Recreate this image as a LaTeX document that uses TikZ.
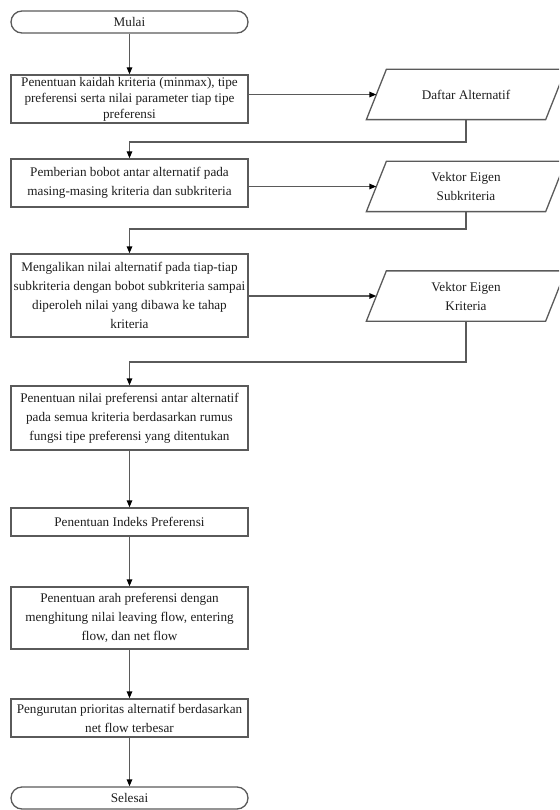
\documentclass[tikz,border=0pt]{standalone}
\usepackage{fontspec}
\setmainfont{Liberation Serif}
\usetikzlibrary{arrows.meta}
\definecolor{linec}{HTML}{5A5A5A}
\definecolor{textc}{HTML}{1E1E1E}
\tikzset{
  base/.style={draw=linec, line width=1.3pt, text=textc, align=center,
    font=\fontsize{13.2}{19}\selectfont, inner sep=2pt},
  procbox/.style={base, rectangle, minimum width=237pt},
  termbox/.style={base, rectangle, rounded corners=11pt, minimum width=237pt, minimum height=22pt},
  databox/.style={base, draw=none, rectangle, minimum width=198pt, minimum height=49pt,
    append after command={
      \pgfextra{\draw[draw=linec, line width=1.3pt]
        ([xshift=20pt]\tikzlastnode.north west) -- (\tikzlastnode.north east)
        -- ([xshift=-20pt]\tikzlastnode.south east) -- (\tikzlastnode.south west) -- cycle;}}},
  flow/.style={draw=linec, line width=1.3pt, -{Triangle[length=7pt,width=5.5pt,fill=black,color=black]}},
}
\begin{document}
\begin{tikzpicture}[x=1pt,y=-1pt]
\useasboundingbox (0,0) rectangle (559,810);
\clip (0,0) rectangle (559,810);

\node[termbox] (mulai) at (129.5,22) {Mulai};
\node[procbox, minimum height=48pt, font=\fontsize{13.2}{16}\selectfont] (b1) at (129.5,99)
  {Penentuan kaidah kriteria (minmax), tipe\\preferensi serta nilai parameter tiap tipe\\preferensi};
\node[procbox, minimum height=48pt] (b2) at (129.5,183)
  {Pemberian bobot antar alternatif pada\\masing-masing kriteria dan subkriteria};
\node[procbox, minimum height=83pt] (b3) at (129.5,295.5)
  {Mengalikan nilai alternatif pada tiap-tiap\\subkriteria dengan bobot subkriteria sampai\\diperoleh nilai yang dibawa ke tahap\\kriteria};
\node[procbox, minimum height=64pt] (b4) at (129.5,418)
  {Penentuan nilai preferensi antar alternatif\\pada semua kriteria berdasarkan rumus\\fungsi tipe preferensi yang ditentukan};
\node[procbox, minimum height=28pt] (b5) at (129.5,522)
  {Penentuan Indeks Preferensi};
\node[procbox, minimum height=62pt] (b6) at (129.5,618)
  {Penentuan arah preferensi dengan\\menghitung nilai leaving flow, entering\\flow, dan net flow};
\node[procbox, minimum height=38pt] (b7) at (129.5,718)
  {Pengurutan prioritas alternatif berdasarkan\\net flow terbesar};
\node[termbox] (selesai) at (129.5,798) {Selesai};

\node[databox] (d1) at (466,94.5) {Daftar Alternatif};
\node[databox] (d2) at (466,186.5) {Vektor Eigen\\Subkriteria};
\node[databox] (d3) at (466,296) {Vektor Eigen\\Kriteria};

\coordinate (d1in) at ([xshift=10pt]d1.west);
\coordinate (d2in) at ([xshift=10pt]d2.west);
\coordinate (d3in) at ([xshift=10pt]d3.west);
\coordinate (j1) at (466,142);
\coordinate (j2) at (466,229);
\coordinate (j3) at (466,362);

\draw[flow] (mulai) -- (b1);
\draw[flow] (b1.east |- d1in) -- (d1in);
\draw[flow] (d1.south) -- (j1) -| (b2.north);
\draw[flow] (b2.east |- d2in) -- (d2in);
\draw[flow] (d2.south) -- (j2) -| (b3.north);
\draw[flow] (b3.east |- d3in) -- (d3in);
\draw[flow] (d3.south) -- (j3) -| (b4.north);
\draw[flow] (b4) -- (b5);
\draw[flow] (b5) -- (b6);
\draw[flow] (b6) -- (b7);
\draw[flow] (b7) -- (selesai);
\end{tikzpicture}
\end{document}
